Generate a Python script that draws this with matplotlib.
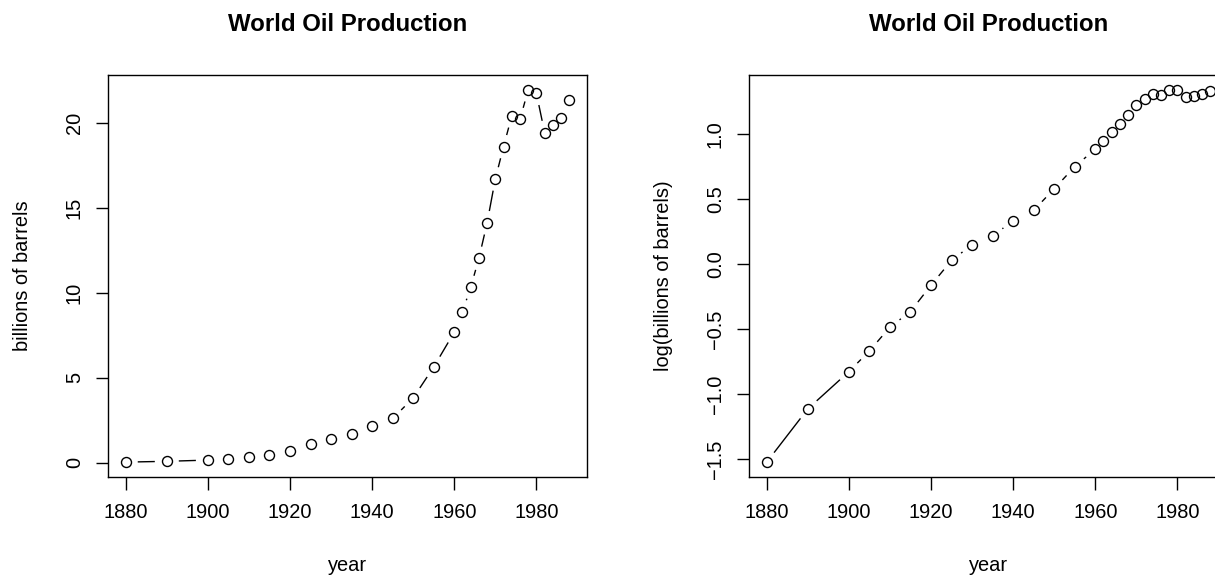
import numpy as np
import matplotlib
matplotlib.use("Agg")
import matplotlib.pyplot as plt
from matplotlib.collections import LineCollection

# ----------------------------
# World oil production data (billions of barrels)
# ----------------------------
years = [1880, 1890, 1900, 1905, 1910, 1915, 1920, 1925, 1930, 1935, 1940,
         1945, 1950, 1955, 1960, 1962, 1964, 1966, 1968, 1970, 1972, 1974,
         1976, 1978, 1980, 1982, 1984, 1986, 1988]
barrels = [0.030, 0.077, 0.149, 0.215, 0.328, 0.432, 0.689, 1.069, 1.412,
           1.655, 2.150, 2.595, 3.803, 5.626, 7.674, 8.882, 10.310, 12.016,
           14.104, 16.690, 18.584, 20.389, 20.188, 21.922, 21.722, 19.411,
           19.837, 20.246, 21.338]

x_ticks = [1880, 1900, 1920, 1940, 1960, 1980]
y_ticks_raw = [0, 5, 10, 15, 20]
y_ticks_log = [-1.5, -1.0, -0.5, 0.0, 0.5, 1.0]

title = "World Oil Production"

plt.rcParams["font.family"] = ["Liberation Sans", "DejaVu Sans"]
plt.rcParams["axes.linewidth"] = 1.0

W, H = 1215, 578
fig = plt.figure(figsize=(W / 100, H / 100), dpi=100)


def r_limits(v):
    # R's default 4% axis expansion
    lo, hi = min(v), max(v)
    pad = 0.04 * (hi - lo)
    return lo - pad, hi + pad


def plot_type_b(ax, x, y, gap_px=12):
    # points with line segments that stop short of each point (R type="b")
    ax.plot(x, y, linestyle="none", marker="o", ms=7.2, mfc="none",
            mec="black", mew=1.0)
    pts = ax.transData.transform(np.column_stack([x, y]))
    inv = ax.transData.inverted()
    segs = []
    for p0, p1 in zip(pts[:-1], pts[1:]):
        d = p1 - p0
        L = np.hypot(*d)
        if L > 2 * gap_px:
            u = d / L
            segs.append(inv.transform([p0 + u * gap_px, p1 - u * gap_px]))
    ax.add_collection(LineCollection(segs, colors="black", linewidths=1.0))


def style_axes(ax, yticks, ylabel):
    ax.set_xticks(x_ticks)
    ax.set_yticks(yticks)
    ax.tick_params(direction="out", length=9, width=1.0, labelsize=14.4)
    ax.tick_params(axis="x", pad=10)
    ax.tick_params(axis="y", pad=8.3, labelrotation=90)
    for lab in ax.get_yticklabels():
        lab.set_va("center")
    ax.set_title(title, fontsize=17.3, fontweight="bold", pad=31.5)
    ax.set_xlabel("year", fontsize=14.4, labelpad=24.5)
    ax.set_ylabel(ylabel, fontsize=14.4, labelpad=24)


ax_w = 479 / W
ax_h = 402 / H
ax_b = (H - 477) / H

# left: raw values
ax1 = fig.add_axes([108 / W, ax_b, ax_w, ax_h])
ax1.set_xlim(*r_limits(years))
ax1.set_ylim(*r_limits(barrels))
style_axes(ax1, y_ticks_raw, "billions of barrels")
plot_type_b(ax1, years, barrels)

# right: log10 values (panel runs past the right edge, as in the reference)
log_barrels = np.log10(barrels)
ax2 = fig.add_axes([749 / W, ax_b, ax_w, ax_h])
ax2.set_xlim(*r_limits(years))
ax2.set_ylim(*r_limits(log_barrels))
style_axes(ax2, y_ticks_log, "log(billions of barrels)")
ax2.set_yticklabels([f"{t:.1f}".replace("-", "\u2212") for t in y_ticks_log])
for lab in ax2.get_yticklabels():
    lab.set_va("center")
plot_type_b(ax2, years, log_barrels)

fig.savefig("out.png", dpi=100)
